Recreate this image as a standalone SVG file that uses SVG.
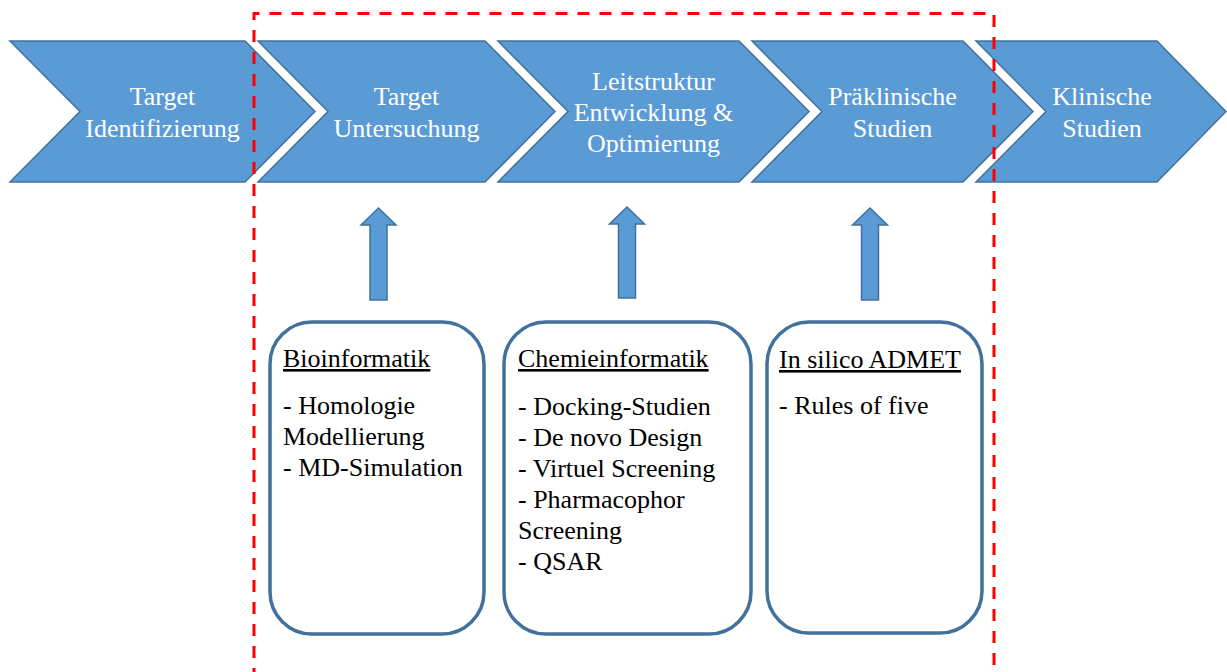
<svg xmlns="http://www.w3.org/2000/svg" width="1227" height="672" viewBox="0 0 1227 672">
  <style>
    .chev { fill: #5B9BD5; stroke: #41719C; stroke-width: 1.5; stroke-linejoin: miter; }
    .chev-text { font-family: "Liberation Serif", "Times New Roman", serif; font-size: 26px; fill: #FFFFFF; text-anchor: middle; }
    .box { fill: #FFFFFF; stroke: #41719C; stroke-width: 3.5; }
    .box-text { font-family: "Liberation Serif", "Times New Roman", serif; font-size: 26px; fill: #000000; }
    .title { text-decoration: underline; }
    .up { fill: #5B9BD5; stroke: #41719C; stroke-width: 1.5; stroke-linejoin: miter; }
    .scope { fill: none; stroke: #FF0000; stroke-width: 3; stroke-dasharray: 12 10; }
  </style>

  <!-- process chevrons -->
  <g id="step-target-identifizierung">
    <polygon class="chev" points="10,41 245,41 315,111.5 245,182 10,182 80,111.5"/>
    <text class="chev-text" x="162.5" y="105">Target</text>
    <text class="chev-text" x="162.5" y="137">Identifizierung</text>
  </g>
  <g id="step-target-untersuchung">
    <polygon class="chev" points="258,41 485,41 555,111.5 485,182 258,182 328,111.5"/>
    <text class="chev-text" x="406.5" y="105">Target</text>
    <text class="chev-text" x="406.5" y="137">Untersuchung</text>
  </g>
  <g id="step-leitstruktur">
    <polygon class="chev" points="498,41 739,41 809,111.5 739,182 498,182 568,111.5"/>
    <text class="chev-text" x="653.5" y="90">Leitstruktur</text>
    <text class="chev-text" x="653.5" y="121">Entwicklung &amp;</text>
    <text class="chev-text" x="653.5" y="152">Optimierung</text>
  </g>
  <g id="step-praeklinisch">
    <polygon class="chev" points="752,41 963,41 1033,111.5 963,182 752,182 822,111.5"/>
    <text class="chev-text" x="892.5" y="105">Präklinische</text>
    <text class="chev-text" x="892.5" y="137">Studien</text>
  </g>
  <g id="step-klinisch">
    <polygon class="chev" points="976,41 1157,41 1226,111.5 1157,182 976,182 1046,111.5"/>
    <text class="chev-text" x="1102" y="105">Klinische</text>
    <text class="chev-text" x="1102" y="137">Studien</text>
  </g>

  <!-- upward block arrows linking the method boxes to the stages -->
  <g id="connectors">
    <polygon class="up" points="378.5,208 396,225 387,225 387,300 370,300 370,225 361,225"/>
    <polygon class="up" points="627,207 644.5,224 635.5,224 635.5,298 618.5,298 618.5,224 609.5,224"/>
    <polygon class="up" points="870,208 887.5,225 878.5,225 878.5,300 861.5,300 861.5,225 852.5,225"/>
  </g>

  <!-- method boxes -->
  <g id="box-bioinformatik">
    <rect class="box" x="270" y="322" width="214" height="312" rx="42" ry="42"/>
    <text class="box-text title" x="283" y="367">Bioinformatik</text>
    <text class="box-text" x="283" y="414">- Homologie</text>
    <text class="box-text" x="283" y="445">Modellierung</text>
    <text class="box-text" x="283" y="476">- MD-Simulation</text>
  </g>
  <g id="box-chemieinformatik">
    <rect class="box" x="504" y="322" width="247" height="312" rx="42" ry="42"/>
    <text class="box-text title" x="518" y="367">Chemieinformatik</text>
    <text class="box-text" x="518" y="415">- Docking-Studien</text>
    <text class="box-text" x="518" y="446">- De novo Design</text>
    <text class="box-text" x="518" y="477">- Virtuel Screening</text>
    <text class="box-text" x="518" y="508">- Pharmacophor</text>
    <text class="box-text" x="518" y="539">Screening</text>
    <text class="box-text" x="518" y="570">- QSAR</text>
  </g>
  <g id="box-admet">
    <rect class="box" x="767" y="322" width="215" height="311" rx="42" ry="42"/>
    <text class="box-text title" x="779" y="368">In silico ADMET</text>
    <text class="box-text" x="779" y="414">- Rules of five</text>
  </g>

  <!-- dashed scope frame, open at the bottom -->
  <g id="scope-frame">
    <path class="scope" d="M254,680 L254,13.5 L994,13.5 L994,680"/>
  </g>
</svg>
